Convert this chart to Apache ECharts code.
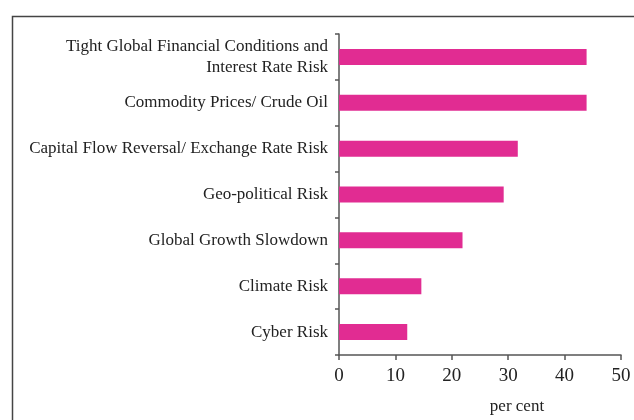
<!DOCTYPE html>
<html><head><meta charset="utf-8">
<script src="https://cdn.jsdelivr.net/npm/echarts@6/dist/echarts.min.js"></script>
<style>html,body{margin:0;padding:0;background:#fff}#c{width:634px;height:420px}</style>
</head><body><div id="c"></div>
<script>
const categories = [
  "Tight Global Financial Conditions and\nInterest Rate Risk",
  "Commodity Prices/ Crude Oil",
  "Capital Flow Reversal/ Exchange Rate Risk",
  "Geo-political Risk",
  "Global Growth Slowdown",
  "Climate Risk",
  "Cyber Risk"
];
const values = [43.9, 43.9, 31.7, 29.2, 21.9, 14.6, 12.1];
const xTicks = [0, 10, 20, 30, 40, 50];
const xAxisName = "per cent";

const serif = "'Liberation Serif', 'DejaVu Serif', serif";
const chart = echarts.init(document.getElementById('c'), null, {renderer: 'canvas'});
chart.setOption({
  animation: false,
  backgroundColor: '#fff',
  graphic: [{
    type: 'rect', left: 10, top: 14,
    shape: {x: 0, y: 0, width: 700, height: 500},
    style: {fill: 'none', stroke: '#444', lineWidth: 1.5}
  }],
  grid: {left: 339, right: 13, top: 34, bottom: 65, containLabel: false},
  xAxis: {
    type: 'value', min: xTicks[0], max: xTicks[xTicks.length - 1], interval: 10,
    splitLine: {show: false},
    axisLine: {show: true, lineStyle: {color: '#555', width: 1.5}},
    axisTick: {show: true, length: 5, lineStyle: {color: '#555', width: 1.5}},
    axisLabel: {color: '#222', fontFamily: serif, fontSize: 19, margin: 12},
    name: xAxisName, nameLocation: 'middle', nameGap: 43,
    nameTextStyle: {color: '#222', fontFamily: serif, fontSize: 17, padding: [0, 0, 0, 74]}
  },
  yAxis: {
    type: 'category', data: categories, inverse: true,
    axisLine: {show: true, lineStyle: {color: '#555', width: 1.5}},
    axisTick: {show: true, length: 4, lineStyle: {color: '#555', width: 1.5}},
    axisLabel: {color: '#222', fontFamily: serif, fontSize: 17, margin: 11, lineHeight: 21, align: 'right'}
  },
  series: [{
    type: 'bar', data: values, barWidth: 16,
    itemStyle: {color: '#E12C92'}
  }]
});
</script></body></html>
